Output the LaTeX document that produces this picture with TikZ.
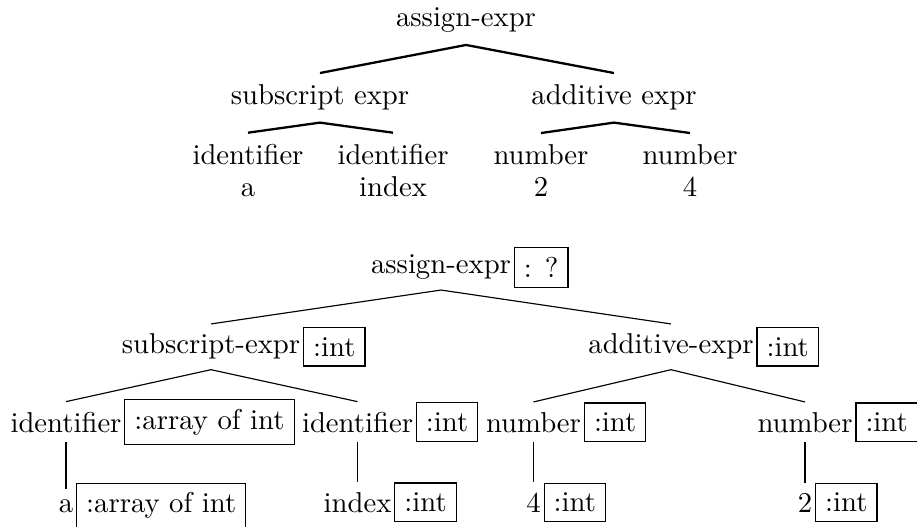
\documentclass[tikz,border=0pt]{standalone}
\begin{document}
\begin{tikzpicture}[x=0.3484pt,y=-0.3484pt,
  qtext/.style={inner sep=4pt, anchor=base},
  qedge/.style={line width=0.8pt},
  ttext/.style={inner ysep=3.33pt, inner xsep=0.8pt, anchor=base},
  tbox/.style={draw, line width=0.4pt, inner sep=3.33pt, anchor=west},
  tedge/.style={line width=0.4pt}]
\useasboundingbox (0,0) rectangle (917,527);
% ---------- top tree ----------
\node[qtext] (r)  at (466,27)  {assign-expr};
\node[qtext] (s)  at (320,105) {subscript expr};
\node[qtext] (ad) at (614,105) {additive expr};
\node[qtext] (i1) at (248,165) {identifier};
\node[qtext] (i2) at (393,165) {identifier};
\node[qtext] (n1) at (541,165) {number};
\node[qtext] (n2) at (690,165) {number};
\node[qtext] (l1) at (248,197) {a};
\node[qtext] (l2) at (393,197) {index};
\node[qtext] (l3) at (541,197) {2};
\node[qtext] (l4) at (690,197) {4};
\draw[qedge] (r.south) -- (s.north);
\draw[qedge] (r.south) -- (ad.north);
\draw[qedge] (s.south) -- (i1.north);
\draw[qedge] (s.south) -- (i2.north);
\draw[qedge] (ad.south) -- (n1.north);
\draw[qedge] (ad.south) -- (n2.north);
% ---------- bottom tree ----------
\node[ttext] (R)  at (441,274) {assign-expr};
\node[tbox]  (Rb) at (R.east) {:\hspace{4.5pt}?};
\node[ttext] (S)  at (211,354) {subscript-expr};
\node[tbox]  (Sb) at (S.east) {:int};
\node[ttext] (A)  at (671,354) {additive-expr};
\node[tbox]  (Ab) at (A.east) {:int};
\node[ttext] (I1) at (66,432) {identifier};
\node[tbox]  (I1b) at (I1.east) {:array of int};
\node[ttext] (I2) at (357.5,432) {identifier};
\node[tbox]  (I2b) at (I2.east) {:int};
\node[ttext] (N1) at (533.5,432) {number};
\node[tbox]  (N1b) at (N1.east) {:int};
\node[ttext] (N2) at (805,432) {number};
\node[tbox]  (N2b) at (N2.east) {:int};
\node[ttext] (L1) at (66,512) {a};
\node[tbox]  (L1b) at (L1.east) {:array of int};
\node[ttext] (L2) at (357.5,512) {index};
\node[tbox]  (L2b) at (L2.east) {:int};
\node[ttext] (L3) at (533.5,512) {4};
\node[tbox]  (L3b) at (L3.east) {:int};
\node[ttext] (L4) at (805,512) {2};
\node[tbox]  (L4b) at (L4.east) {:int};
\draw[tedge] (R.south) -- (S.north);
\draw[tedge] (R.south) -- (A.north);
\draw[tedge] (S.south) -- (I1.north);
\draw[tedge] (S.south) -- (I2.north);
\draw[tedge] (A.south) -- (N1.north);
\draw[tedge] (A.south) -- (N2.north);
\draw[tedge] (I1.south) -- (L1.north);
\draw[tedge] (I2.south) -- (L2.north);
\draw[tedge] (N1.south) -- (L3.north);
\draw[tedge] (N2.south) -- (L4.north);
\end{tikzpicture}
\end{document}
